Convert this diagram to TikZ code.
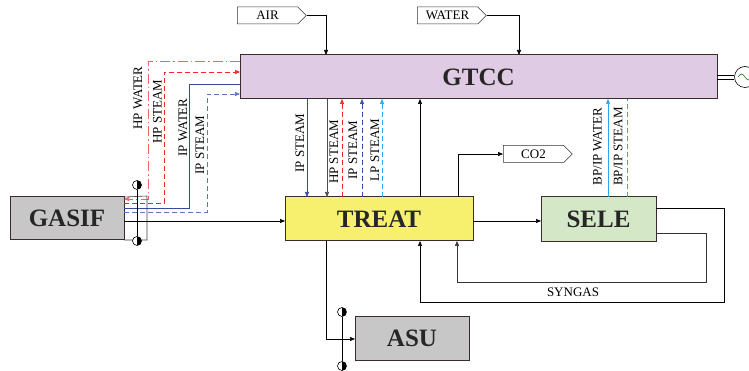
\documentclass[tikz,border=0pt]{standalone}
\usepackage{fontspec}
\setmainfont{Liberation Serif}
\usetikzlibrary{arrows.meta,shapes.symbols}
\definecolor{gtccfill}{RGB}{223,204,228}
\definecolor{grayfill}{RGB}{199,199,199}
\definecolor{treatfill}{RGB}{246,240,110}
\definecolor{selefill}{RGB}{212,232,200}
\definecolor{hpred}{RGB}{235,40,40}
\definecolor{hppink}{RGB}{240,100,100}
\definecolor{ipblue}{RGB}{55,75,160}
\definecolor{ipbluel}{RGB}{90,120,200}
\definecolor{lpcyan}{RGB}{40,170,230}
\definecolor{edgecol}{RGB}{55,45,45}
\begin{document}
\begin{tikzpicture}[x=1pt,y=-1pt,
 unit/.style={draw=edgecol, line width=1pt, inner sep=0pt, outer sep=0pt, font=\fontsize{25}{27}\selectfont\bfseries, text=black!85},
 tag/.style={signal, signal to=east, draw=black!80, line width=0.5pt, minimum width=69pt, minimum height=17pt, inner sep=1pt, font=\fontsize{13}{14}\selectfont},
 lbl/.style={rotate=90, font=\fontsize{13}{14}\selectfont, inner sep=0pt},
 flow/.style={line width=0.6pt, -{Triangle[length=5pt,width=4pt]}},
 pipe/.style={line width=0.6pt},
 dsh/.style={dash pattern=on 5pt off 3pt},
 dshdot/.style={dash pattern=on 10pt off 3pt on 1.5pt off 3pt},
 valve/.style={circle, draw, line width=0.6pt, fill=white, minimum size=9pt, inner sep=0pt, path picture={\fill[black] (path picture bounding box.north) rectangle (path picture bounding box.south east);}}
]
\useasboundingbox (0,0) rectangle (749,371);

% units
\node[unit, fill=gtccfill, minimum width=477pt, minimum height=44pt] (gtcc) at (478.5,77) {GTCC};
\node[unit, fill=grayfill, minimum width=114pt, minimum height=43pt] (gasif) at (67,218.5) {GASIF};
\node[unit, fill=treatfill, minimum width=188pt, minimum height=44pt] (treat) at (379,219) {TREAT};
\node[unit, fill=selefill, minimum width=115pt, minimum height=45pt] (sele) at (598.5,219.5) {SELE};
\node[unit, fill=grayfill, minimum width=114pt, minimum height=44pt] (asu) at (412,338) {ASU};

% tags
\node[tag] (air) at (267.5,15.5) {AIR};
\node[tag] (water) at (447.5,15.5) {WATER};
\node[tag] (co2) at (533.5,154) {CO2};

% generator
\node[circle, draw, line width=0.6pt, minimum size=21pt, inner sep=0pt] (gen) at (745,77) {};
\coordinate (d1) at (0,75); \coordinate (d2) at (0,79.5);
\draw[line width=0.6pt] (gtcc.east |- d1) -- (gen.west |- d1);
\draw[line width=0.6pt] (gtcc.east |- d2) -- (gen.west |- d2);
\draw[green!40!black, line width=0.5pt] (gen.center) ++(-7,0) sin ++(3.5,-3) cos ++(3.5,3) sin ++(3.5,3) cos ++(3.5,-3);

% helper coordinates
\coordinate (x307) at (307,0);
\coordinate (x327) at (327,0);
\coordinate (x342) at (342,0);
\coordinate (x362) at (362,0);
\coordinate (x382) at (382,0);
\coordinate (x420) at (420,0);
\coordinate (x457) at (457,0);
\coordinate (x608) at (608,0);
\coordinate (x627) at (627,0);
\coordinate (x326) at (326,0);
\coordinate (x519) at (519,0);

% AIR, WATER
\draw[flow] (air.east) -| (x326 |- gtcc.north);
\draw[flow] (water.east) -| (x519 |- gtcc.north);

% GASIF <-> GTCC
\coordinate (hw1) at (148,61); \coordinate (hw2) at (148,199);
\draw[flow, hppink, dshdot] (gtcc.west |- hw1) -- (hw1) -- (hw2) -- (gasif.east |- hw2);
\coordinate (hs1) at (164,203); \coordinate (hs2) at (164,72);
\draw[flow, hpred, dsh] (gasif.east |- hs1) -- (hs1) -- (hs2) -- (gtcc.west |- hs2);
\coordinate (iw1) at (189,84); \coordinate (iw2) at (189,208);
\draw[pipe, ipblue] (gtcc.west |- iw1) -- (iw1) -- (iw2) -- (gasif.east |- iw2);
\coordinate (is1) at (207,212); \coordinate (is2) at (207,94);
\draw[flow, ipbluel, dsh] (gasif.east |- is1) -- (is1) -- (is2) -- (gtcc.west |- is2);

\node[lbl] (lhw) at (138,98) {HP WATER};
\node[lbl] (lhs) at (157.5,111.5) {HP STEAM};
\node[lbl] (liw) at (183,127.5) {IP WATER};
\node[lbl] (lis) at (200,145) {IP STEAM};

% GASIF frame and valve
\coordinate (fr1) at (147,196); \coordinate (fr2) at (147,240);
\draw[pipe, black!75] (gasif.north east) -- (fr1) -- (fr2) -- (gasif.south east);
\node[valve] (v1t) at (137,185) {};
\node[valve] (v1b) at (137,241) {};
\draw[pipe] (v1t) -- (v1b);

% GASIF -> TREAT
\coordinate (g1) at (0,221);
\draw[flow] (gasif.east |- g1) -- (treat.west |- g1);

% GTCC <-> TREAT
\draw[flow, ipblue] (gtcc.south -| x307) -- (treat.north -| x307);
\draw[flow, black!70] (gtcc.south -| x327) -- (treat.north -| x327);
\draw[flow, hpred, dsh] (treat.north -| x342) -- (gtcc.south -| x342);
\draw[flow, ipblue, dsh] (treat.north -| x362) -- (gtcc.south -| x362);
\draw[flow, lpcyan, dsh] (treat.north -| x382) -- (gtcc.south -| x382);
\draw[flow] (treat.north -| x420) -- (gtcc.south -| x420);

\node[lbl] (lm1) at (300,143) {IP STEAM};
\node[lbl] (lm2) at (334,152) {HP STEAM};
\node[lbl] (lm3) at (353,150) {IP STEAM};
\node[lbl] (lm4) at (375,150) {LP STEAM};

% CO2
\coordinate (c1) at (458,154);
\draw[flow] (treat.north -| c1) -- (c1) -- (co2.west);

% TREAT -> SELE
\coordinate (s1) at (0,221);
\draw[flow] (treat.east |- s1) -- (sele.west |- s1);

% SELE <-> GTCC
\draw[flow, lpcyan] (sele.north -| x608) -- (gtcc.south -| x608);
\draw[pipe, lpcyan, dsh] (sele.north -| x627) -- (gtcc.south -| x627);
\node[lbl] (lb1) at (597.5,146.5) {BP/IP WATER};
\node[lbl] (lb2) at (618,146.5) {BP/IP STEAM};

% SELE loops
\coordinate (o1) at (724,208); \coordinate (o2) at (724,302);
\draw[flow] (sele.east |- o1) -- (o1) -- (o2) -| (x420 |- treat.south);
\coordinate (i1) at (706,233); \coordinate (i2) at (706,282);
\draw[flow, black!80] (sele.east |- i1) -- (i1) -- (i2) -| (x457 |- treat.south);
\node[font=\fontsize{13}{14}\selectfont, inner sep=0pt] (syn) at (573,292) {SYNGAS};

% TREAT -> ASU
\coordinate (a1) at (326,339);
\draw[flow] (treat.south -| a1) -- (a1) -- (asu.west |- a1);
\node[valve] (v2t) at (342,312) {};
\node[valve] (v2b) at (342,366) {};
\draw[pipe] (v2t) -- (v2b);
\end{tikzpicture}
\end{document}
